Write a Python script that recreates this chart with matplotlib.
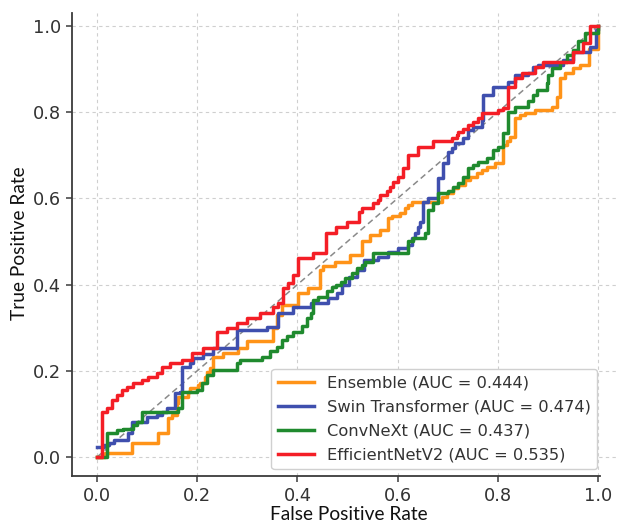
import matplotlib
matplotlib.use("Agg")
import matplotlib.pyplot as plt

# ROC step points: (fpr at jump, tpr after jump)
ens_fpr = [0.0, 0.016, 0.069, 0.122, 0.142, 0.149, 0.159, 0.162, 0.182, 0.186, 0.202, 0.206, 0.216, 0.219,
           0.226, 0.232, 0.252, 0.282, 0.299, 0.352, 0.36, 0.369, 0.401, 0.421, 0.445, 0.452, 0.475, 0.505,
           0.528, 0.545, 0.565, 0.581, 0.588, 0.605, 0.615, 0.621, 0.628, 0.688, 0.698, 0.711, 0.721, 0.735,
           0.745, 0.758, 0.768, 0.778, 0.795, 0.811, 0.818, 0.824, 0.834, 0.844, 0.854, 0.874, 0.908, 0.918,
           0.924, 0.935, 0.95, 0.965, 0.982, 1.0]
ens_tpr = [0.0, 0.009, 0.032, 0.055, 0.09, 0.097, 0.125, 0.14, 0.152, 0.159, 0.167, 0.171, 0.186, 0.198,
           0.206, 0.233, 0.241, 0.253, 0.268, 0.30, 0.33, 0.353, 0.38, 0.391, 0.434, 0.442, 0.453, 0.469,
           0.50, 0.515, 0.527, 0.554, 0.558, 0.565, 0.577, 0.585, 0.592, 0.604, 0.612, 0.623, 0.631, 0.643,
           0.65, 0.658, 0.666, 0.673, 0.681, 0.724, 0.732, 0.743, 0.786, 0.793, 0.797, 0.805, 0.813, 0.836,
           0.879, 0.89, 0.902, 0.91, 0.947, 1.0]

swin_fpr = [0.0, 0.013, 0.023, 0.033, 0.062, 0.069, 0.099, 0.119, 0.129, 0.139, 0.156, 0.166, 0.169, 0.186,
            0.192, 0.212, 0.232, 0.279, 0.339, 0.362, 0.392, 0.428, 0.461, 0.48, 0.49, 0.502, 0.518, 0.532,
            0.561, 0.581, 0.601, 0.621, 0.628, 0.635, 0.641, 0.645, 0.651, 0.661, 0.681, 0.691, 0.701, 0.708,
            0.715, 0.731, 0.741, 0.751, 0.768, 0.771, 0.791, 0.82, 0.834, 0.86, 0.87, 0.88, 0.93, 0.95, 0.984,
            0.997, 1.0]
swin_tpr = [0.024, 0.028, 0.032, 0.039, 0.055, 0.082, 0.094, 0.097, 0.105, 0.113, 0.148, 0.152, 0.21, 0.217,
            0.229, 0.24, 0.253, 0.295, 0.302, 0.334, 0.349, 0.357, 0.368, 0.38, 0.40, 0.418, 0.434, 0.457,
            0.465, 0.476, 0.484, 0.492, 0.507, 0.519, 0.534, 0.546, 0.592, 0.60, 0.647, 0.681, 0.708, 0.716,
            0.728, 0.739, 0.759, 0.766, 0.782, 0.84, 0.859, 0.871, 0.886, 0.89, 0.905, 0.91, 0.92, 0.94, 0.952,
            0.99, 1.0]

conv_fpr = [0.0, 0.019, 0.039, 0.052, 0.072, 0.079, 0.089, 0.162, 0.17, 0.199, 0.209, 0.22, 0.232, 0.279,
            0.285, 0.329, 0.345, 0.359, 0.369, 0.38, 0.392, 0.41, 0.419, 0.428, 0.432, 0.442, 0.459, 0.47,
            0.478, 0.488, 0.495, 0.508, 0.518, 0.528, 0.535, 0.551, 0.621, 0.631, 0.655, 0.661, 0.671, 0.681,
            0.701, 0.711, 0.721, 0.731, 0.741, 0.751, 0.761, 0.778, 0.791, 0.801, 0.811, 0.821, 0.834, 0.861,
            0.87, 0.878, 0.898, 0.90, 0.908, 0.924, 0.938, 0.95, 0.961, 0.975, 1.0]
conv_tpr = [0.0, 0.055, 0.063, 0.066, 0.074, 0.082, 0.105, 0.113, 0.15, 0.155, 0.171, 0.19, 0.202, 0.217,
            0.225, 0.233, 0.245, 0.256, 0.271, 0.28, 0.291, 0.305, 0.322, 0.335, 0.364, 0.372, 0.384, 0.395,
            0.399, 0.407, 0.415, 0.426, 0.438, 0.445, 0.453, 0.473, 0.50, 0.507, 0.519, 0.573, 0.59, 0.612,
            0.616, 0.627, 0.635, 0.65, 0.67, 0.677, 0.685, 0.693, 0.712, 0.72, 0.751, 0.801, 0.813, 0.825,
            0.84, 0.852, 0.867, 0.886, 0.902, 0.917, 0.933, 0.945, 0.964, 0.983, 1.0]

eff_fpr = [0.0, 0.009, 0.019, 0.029, 0.039, 0.049, 0.059, 0.072, 0.089, 0.102, 0.119, 0.129, 0.146, 0.169,
           0.189, 0.212, 0.239, 0.259, 0.279, 0.299, 0.325, 0.352, 0.362, 0.372, 0.382, 0.392, 0.402, 0.432,
           0.458, 0.478, 0.499, 0.522, 0.528, 0.551, 0.561, 0.565, 0.578, 0.585, 0.591, 0.601, 0.611, 0.621,
           0.641, 0.671, 0.708, 0.718, 0.721, 0.731, 0.741, 0.751, 0.761, 0.768, 0.801, 0.811, 0.821, 0.834,
           0.848, 0.874, 0.89, 0.95, 0.97, 0.984, 1.0]
eff_tpr = [0.0, 0.105, 0.113, 0.132, 0.144, 0.155, 0.163, 0.171, 0.179, 0.186, 0.194, 0.21, 0.217, 0.225,
           0.241, 0.253, 0.291, 0.30, 0.311, 0.322, 0.334, 0.349, 0.357, 0.392, 0.403, 0.422, 0.461, 0.473,
           0.52, 0.534, 0.546, 0.569, 0.577, 0.589, 0.596, 0.608, 0.616, 0.627, 0.639, 0.65, 0.67, 0.70,
           0.72, 0.732, 0.739, 0.747, 0.755, 0.762, 0.77, 0.778, 0.786, 0.797, 0.805, 0.809, 0.859, 0.879,
           0.89, 0.905, 0.917, 0.94, 0.96, 1.0, 1.0]

labels = ["Ensemble (AUC = 0.444)", "Swin Transformer (AUC = 0.474)",
          "ConvNeXt (AUC = 0.437)", "EfficientNetV2 (AUC = 0.535)"]
colors = ["#ff9318", "#3f4fae", "#1f8a2e", "#f41e26"]
ticks = [0.0, 0.2, 0.4, 0.6, 0.8, 1.0]
tick_labels = ["0.0", "0.2", "0.4", "0.6", "0.8", "1.0"]

W, H = 619, 524
fig = plt.figure(figsize=(W / 100, H / 100), dpi=100)
ax = fig.add_axes([72 / W, 48 / H, (623 - 72) / W, (476 - 13) / H])

series = [(ens_fpr, ens_tpr), (swin_fpr, swin_tpr), (conv_fpr, conv_tpr), (eff_fpr, eff_tpr)]
for (f, t), c, lab in zip(series, colors, labels):
    ax.step(f, t, where="post", color=c, lw=2.5, label=lab, zorder=3)

ax.plot([0, 1], [0, 1], linestyle=(0, (4, 2.5)), color="#8a8a8a", lw=1.1, zorder=2)

ax.set_xlim(-0.05, 1.05)
ax.set_ylim(-0.044, 1.030)
ax.set_xticks(ticks)
ax.set_xticklabels(tick_labels)
ax.set_yticks(ticks)
ax.set_yticklabels(tick_labels)
ax.grid(True, linestyle=(0, (3, 3)), color="#cfcfcf", lw=0.8, zorder=0)
for s in ["top", "right"]:
    ax.spines[s].set_visible(False)
for s in ["left", "bottom"]:
    ax.spines[s].set_color("#3a3a3a")
    ax.spines[s].set_linewidth(1.3)
ax.spines["bottom"].set_bounds(-0.05, 1.005)
ax.tick_params(axis="both", labelsize=12.8, colors="#3a3a3a", length=4, width=1.1, pad=4)
for lbl in ax.get_xticklabels() + ax.get_yticklabels():
    lbl.set_color("#333333")

fig.text(20 / W, 1 - 243 / H, "True Positive Rate", rotation=90, ha="center", va="center",
         fontsize=13.8, family="Lato", color="#111111")
fig.text(349 / W, 1 - 514 / H, "False Positive Rate", ha="center", va="center",
         fontsize=13.8, family="Lato", color="#111111")

leg = ax.legend(loc="lower right", bbox_to_anchor=(597 / W, (H - 469) / H),
                bbox_transform=fig.transFigure, borderaxespad=0, fontsize=11.7,
                handlelength=2.2, labelspacing=0.55, frameon=True, fancybox=True,
                edgecolor="#d0d0d0", framealpha=1.0)
for txt in leg.get_texts():
    txt.set_color("#333333")

fig.savefig("out.png", dpi=100)
